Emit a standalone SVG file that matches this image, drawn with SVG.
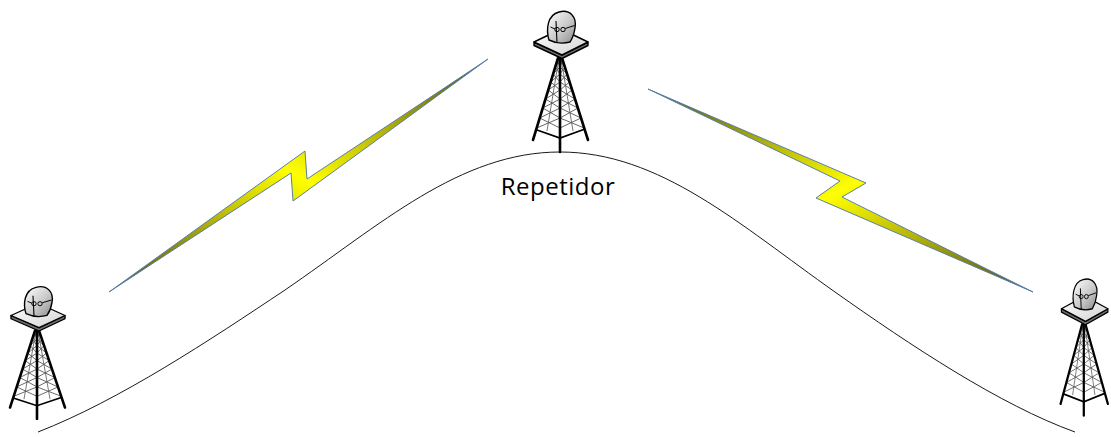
<svg xmlns="http://www.w3.org/2000/svg" xmlns:xlink="http://www.w3.org/1999/xlink" width="1111" height="437" viewBox="0 0 1111 437">
  <style>
    .leg { stroke: #000; stroke-width: 2.6; fill: none; stroke-linecap: round; }
    .backleg { stroke: #666; stroke-width: 0.9; fill: none; }
    .lattice { stroke: #555; stroke-width: 0.9; fill: none; }
    .brace { stroke: #000; stroke-width: 1.8; fill: none; }
    .outline { stroke: #000; stroke-width: 1.4; stroke-linejoin: round; }
    .bolt { stroke: #5b7fa6; stroke-width: 1; stroke-linejoin: miter; }
    .ground { stroke: #1a1a1a; stroke-width: 1; fill: none; }
    .label { font-family: "Open Sans", "Liberation Sans", sans-serif; font-size: 24px; letter-spacing: 0.5px; fill: #000; }
  </style>
  <defs>
    <linearGradient id="dishFill" x1="0" y1="0" x2="1" y2="1">
      <stop offset="0" stop-color="#ffffff"/>
      <stop offset="0.55" stop-color="#cacaca"/>
      <stop offset="1" stop-color="#8a8a8a"/>
    </linearGradient>
    <linearGradient id="deckFill" x1="0" y1="0" x2="1" y2="1">
      <stop offset="0" stop-color="#ffffff"/>
      <stop offset="1" stop-color="#d4d4d4"/>
    </linearGradient>
    <linearGradient id="boltUp" x1="0" y1="1" x2="1" y2="0">
      <stop offset="0" stop-color="#2d4860"/>
      <stop offset="0.1" stop-color="#6e6e10"/>
      <stop offset="0.5" stop-color="#ffff00"/>
      <stop offset="0.9" stop-color="#6e6e10"/>
      <stop offset="1" stop-color="#2d4860"/>
    </linearGradient>
    <linearGradient id="boltDown" x1="0" y1="0" x2="1" y2="1">
      <stop offset="0" stop-color="#2d4860"/>
      <stop offset="0.1" stop-color="#6e6e10"/>
      <stop offset="0.5" stop-color="#ffff00"/>
      <stop offset="0.9" stop-color="#6e6e10"/>
      <stop offset="1" stop-color="#2d4860"/>
    </linearGradient>

    <!-- lattice tower with a dish antenna on a square deck -->
    <g id="tower">
      <!-- rear legs -->
      <line class="backleg" x1="29" y1="58" x2="17" y2="131"/>
      <line class="backleg" x1="31" y1="58" x2="43" y2="131"/>
      <!-- lattice bracing -->
      <polyline class="lattice" points="27.4,60 30,67 23.1,74 30,82 18.2,90 30,99 12.8,108 30,118 6.7,128"/>
      <polyline class="lattice" points="30,60 25.3,67 30,74 20.7,82 30,90 15.5,99 30,108 9.7,118 30,128"/>
      <polyline class="lattice" points="32.6,60 30,67 37.1,74 30,82 42.1,90 30,99 47.9,108 30,118 54.2,128"/>
      <polyline class="lattice" points="30,60 34.9,67 30,74 39.6,82 30,90 45,99 30,108 51,118 30,128"/>
      <!-- base bracing -->
      <polyline class="brace" points="7,130 30,138 55,129"/>
      <!-- legs -->
      <line class="leg" x1="28" y1="58" x2="3" y2="140"/>
      <line class="leg" x1="32" y1="58" x2="58" y2="140"/>
      <line class="leg" x1="30" y1="58" x2="30" y2="152"/>
      <!-- deck -->
      <polygon class="outline" fill="#6e6e6e" points="4,42 32,55 58,42 58,45.5 32,58.5 4,45.5"/>
      <polygon class="outline" fill="url(#deckFill)" points="4,42 31,29 58,42 32,55"/>
      <!-- dish -->
      <path class="outline" fill="url(#dishFill)" d="M19,40 C16,30 17,15 29,12 C40,9 47,17 45,28 C44,35 42,39 40,42 Q29,45 19,40 Z"/>
      <line stroke="#000" stroke-width="1.1" x1="26" y1="21" x2="27" y2="43"/>
      <line stroke="#000" stroke-width="1" x1="20.5" y1="27" x2="25" y2="29"/>
      <line stroke="#000" stroke-width="1" x1="35.2" y1="28.5" x2="44.5" y2="25.5"/>
      <circle cx="27" cy="29.5" r="2.2" fill="none" stroke="#000" stroke-width="1"/>
      <circle cx="33" cy="29.5" r="2.2" fill="none" stroke="#000" stroke-width="1"/>
    </g>
  </defs>

  <rect width="1111" height="437" fill="#ffffff"/>

  <!-- terrain profile -->
  <path id="terrain" class="ground" d="M38,432 C120,400 210,340 285,290 C380,225 460,152 560,152 C660,152 740,225 835,292 C910,345 1000,405 1075,432"/>

  <!-- stations -->
  <g id="station-left">
    <use xlink:href="#tower" href="#tower" transform="translate(7,276) scale(1,0.94)"/>
  </g>
  <g id="station-repeater">
    <use xlink:href="#tower" href="#tower" transform="translate(530,0)"/>
    <text class="label" x="558" y="195" text-anchor="middle">Repetidor</text>
  </g>
  <g id="station-right">
    <use xlink:href="#tower" href="#tower" transform="translate(1058,268) scale(0.86,0.97)"/>
  </g>

  <!-- radio links -->
  <g id="links">
    <path class="bolt" fill="url(#boltUp)" d="M109,292 L291,173 L293,201 L488,59 L307,179 L305,151 Z"/>
    <path class="bolt" fill="url(#boltDown)" d="M648,89 L866,183 L842,197 L1033,292 L816,198 L840,181 Z"/>
  </g>
</svg>
